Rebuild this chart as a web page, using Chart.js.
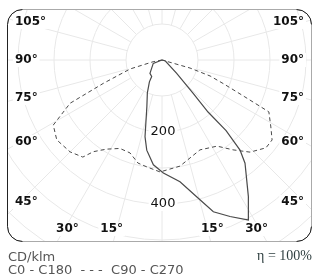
<!DOCTYPE html>
<html>
<head>
<meta charset="utf-8">
<script src="https://cdn.jsdelivr.net/npm/chart.js@4.4.0/dist/chart.umd.min.js"></script>
<style>
body { margin: 0; background: #fff; }
#wrap { position: relative; width: 314px; height: 274px; overflow: hidden; }
#polar { position: absolute; left: 0; top: 0; }
.note { position: absolute; left: 8px; font-family: "DejaVu Sans"; font-size: 13px; color: #555; white-space: pre; line-height: 15px; }
#eta { position: absolute; right: 2px; top: 248px; font-family: "Liberation Serif"; font-size: 14px; color: #2f3f40; line-height: 15px; }
</style>
</head>
<body>
<div id="wrap">
	<canvas id="polar" width="314" height="274"></canvas>
	<div class="note" style="top:249px">CD/klm</div>
	<div class="note" style="top:262px">C0 - C180  - - -  C90 - C270</div>
	<div id="eta">η = 100%</div>
</div>

<script>
// ANGLE / RING LABELS
const angleLabels = [15, 30, 45, 60, 75, 90, 105];
const ringLabels = [200, 400];
const ringStep = 100;

// C0 - C180 plane (gamma in deg, negative = C180 side), cd/klm
const solidGamma = [-90, -69, -42, -32, -30, -24, -18, -12.5, -9.6, -4.7, 0.7, 8.4, 14.2, 18.7, 23.5, 28.5, 32.3, 38.8, 40.9, 42.2, 41.5, 43, 47.9, 77, 90];
const solidCd    = [0,   26,  50,  54,  70,  100, 136, 218,   254,  292,  314, 342, 392,  445,  474,  506,  449,  368,  331,  265,  193,  127, 55,  9,  0];

// C90 - C270 plane (negative = C270 side)
const dashGamma = [-90, -79, -74.3, -68.3, -64.8, -59.1, -52.8, -45, -39.2, -36.8, -32, -25.4, -19, -13.1, -8, -1, 9.6, 22.9, 32.6, 38.3, 43.7, 49.8, 54, 58.4, 64.1, 66, 68.8, 71.6, 74, 90];
const dashCd    = [0,   25,  92,    175,   282,   352,   367,   361, 348,   318,   292, 272,   273, 294,   300, 311, 299, 271,  284,  318,  354,  378,  378, 355, 330,  252, 185,  141,  81, 0];

// layout of the diagram (pixels)
const centerX = 162, centerY = 60, pxPerCd = 0.36;
const W = 314, H = 274;


function toXY(gammas, values) {
	return gammas.map((g, i) => ({
		x: values[i] * Math.sin(g * Math.PI / 180),
		y: -values[i] * Math.cos(g * Math.PI / 180),
	}));
}

function framePath(ctx) {
	const l = 7.5, t = 9.5, r = 311.5, b = 241.5, rad = 15;
	ctx.beginPath();
	ctx.moveTo(l + rad, t);
	ctx.lineTo(r - rad, t);
	ctx.arcTo(r, t, r, t + rad, rad);
	ctx.lineTo(r, b - rad);
	ctx.arcTo(r, b, r - rad, b, rad);
	ctx.lineTo(l + rad, b);
	ctx.arcTo(l, b, l, b - rad, rad);
	ctx.lineTo(l, t + rad);
	ctx.arcTo(l, t, l + rad, t, rad);
	ctx.closePath();
}

function label(ctx, text, x, y, align) {
	const w = ctx.measureText(text).width;
	let left = x - w / 2;
	if (align === "left") left = x;
	if (align === "right") left = x - w;
	ctx.fillStyle = "#fff";
	ctx.fillRect(left - 2, y - 7, w + 4, 14);
	ctx.fillStyle = "#111";
	ctx.textAlign = "left";
	ctx.textBaseline = "middle";
	ctx.fillText(text, left, y);
}

const polarGrid = {
	id: "polarGrid",
	beforeDatasetsDraw(chart) {
		const { ctx, scales: { x, y } } = chart;
		const cx = x.getPixelForValue(0), cy = y.getPixelForValue(0);
		const k = (x.getPixelForValue(ringStep) - cx) / ringStep;

		ctx.save();
		framePath(ctx);
		ctx.clip();
		ctx.strokeStyle = "#e8e8e8";
		ctx.lineWidth = 1;
		for (let r = ringStep; r <= 900; r += ringStep) {
			ctx.beginPath();
			ctx.arc(cx, cy, r * k, 0, Math.PI * 2);
			ctx.stroke();
		}
		for (let a = 0; a < 360; a += 15) {
			const s = Math.sin(a * Math.PI / 180), c = Math.cos(a * Math.PI / 180);
			ctx.beginPath();
			ctx.moveTo(cx + s * ringStep * k, cy + c * ringStep * k);
			ctx.lineTo(cx + s * 1000 * k, cy + c * 1000 * k);
			ctx.stroke();
		}
		ctx.restore();

		// frame: dark sides, grey top / bottom
		ctx.save();
		ctx.lineWidth = 1;
		ctx.strokeStyle = "#aaa";
		framePath(ctx);
		ctx.stroke();
		ctx.strokeStyle = "#222";
		ctx.beginPath();
		ctx.moveTo(22.5, 9.5); ctx.arcTo(7.5, 9.5, 7.5, 24.5, 15);
		ctx.lineTo(7.5, 226.5); ctx.arcTo(7.5, 241.5, 22.5, 241.5, 15);
		ctx.moveTo(296.5, 9.5); ctx.arcTo(311.5, 9.5, 311.5, 24.5, 15);
		ctx.moveTo(311.5, 226.5); ctx.arcTo(311.5, 241.5, 296.5, 241.5, 15);
		ctx.stroke();

		// angle labels
		ctx.font = "bold 12px 'DejaVu Sans'";
		for (const a of angleLabels) {
			const rad = a * Math.PI / 180;
			if (a >= 45) {
				const ly = cy + 142 * Math.cos(rad) / Math.sin(rad);
				label(ctx, a + "°", 15, ly, "left");
				label(ctx, a + "°", 304, ly, "right");
			} else {
				const dx = 169 * Math.tan(rad) + (a === 15 ? 5 : -3);
				label(ctx, a + "°", cx - dx, 229, "center");
				label(ctx, a + "°", cx + dx, 229, "center");
			}
		}

		// ring labels
		ctx.font = "13px 'DejaVu Sans'";
		for (const v of ringLabels) {
			label(ctx, String(v), cx + 1, cy + v * k, "center");
		}
		ctx.restore();
	},
};

new Chart(document.getElementById("polar"), {
	type: "scatter",
	data: {
		datasets: [
			{
				data: toXY(solidGamma, solidCd),
				showLine: true,
				pointRadius: 0,
				borderColor: "#4a4a4a",
				borderWidth: 1.2,
				tension: 0,
			},
			{
				data: toXY(dashGamma, dashCd),
				showLine: true,
				pointRadius: 0,
				borderColor: "#4a4a4a",
				borderWidth: 1,
				borderDash: [4, 3],
				tension: 0,
			},
		],
	},
	options: {
		responsive: false,
		animation: false,
		layout: { padding: 0 },
		plugins: {
			legend: { display: false },
			tooltip: { enabled: false },
		},
		scales: {
			x: { display: false, min: -centerX / pxPerCd, max: (W - centerX) / pxPerCd },
			y: { display: false, min: -(H - centerY) / pxPerCd, max: centerY / pxPerCd },
		},
	},
	plugins: [polarGrid],
});
</script>
</body>
</html>
